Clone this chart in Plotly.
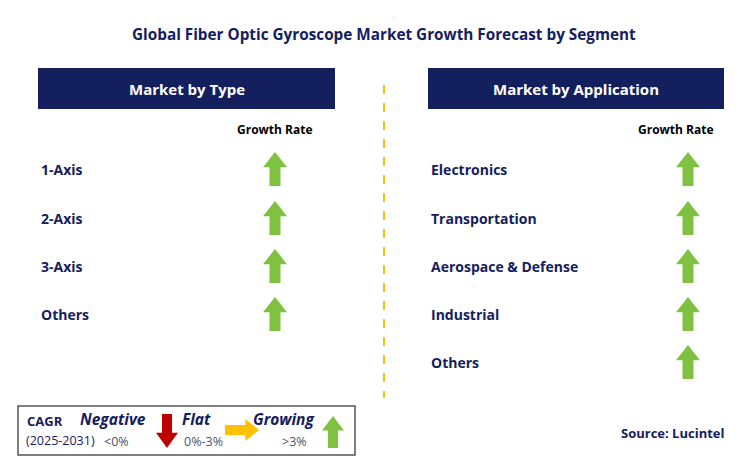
import plotly.graph_objects as go

title = "Global Fiber Optic Gyroscope Market Growth Forecast by Segment"
type_segments = ["1-Axis", "2-Axis", "3-Axis", "Others"]
type_trend = ["up", "up", "up", "up"]
app_segments = ["Electronics", "Transportation", "Aerospace & Defense", "Industrial", "Others"]
app_trend = ["up", "up", "up", "up", "up"]

NAVY = "#14205e"
GREEN = "#7fc241"
RED = "#c00000"
ORANGE = "#ffc000"
FONT = "Open Sans"


def arrow(cx, cy, kind, h=34, w=24, sw=11):
    # path for a block arrow centred at (cx, cy), pixel coordinates (y down)
    if kind == "up":
        t, b, n = cy - h / 2, cy + h / 2, cy - h / 2 + h * 0.45
        pts = [(cx, t), (cx + w / 2, n), (cx + sw / 2, n), (cx + sw / 2, b),
               (cx - sw / 2, b), (cx - sw / 2, n), (cx - w / 2, n)]
        col = GREEN
    elif kind == "down":
        t, b, n = cy - h / 2, cy + h / 2, cy + h / 2 - h * 0.45
        pts = [(cx, b), (cx + w / 2, n), (cx + sw / 2, n), (cx + sw / 2, t),
               (cx - sw / 2, t), (cx - sw / 2, n), (cx - w / 2, n)]
        col = RED
    else:
        l, r, n = cx - h / 2, cx + h / 2, cx + h / 2 - h * 0.4
        pts = [(r, cy), (n, cy - w / 2), (n, cy - sw / 2), (l, cy - sw / 2),
               (l, cy + sw / 2), (n, cy + sw / 2), (n, cy + w / 2)]
        col = ORANGE
    p = "M " + " L ".join(f"{x},{y}" for x, y in pts) + " Z"
    return dict(type="path", path=p, xref="x", yref="y", fillcolor=col, line=dict(width=0))


shapes = []
ann = []

ann.append(dict(x=384, y=34, text=f"<b>{title}</b>", font=dict(size=15.3, color=NAVY)))

# header boxes
for x0, x1, txt in [(38, 335, "Market by Type"), (428, 724, "Market by Application")]:
    shapes.append(dict(type="rect", x0=x0, x1=x1, y0=68, y1=109, xref="x", yref="y",
                       fillcolor=NAVY, line=dict(width=0)))
    ann.append(dict(x=(x0 + x1) / 2, y=89, text=f"<b>{txt}</b>", font=dict(size=15, color="white")))

ann.append(dict(x=275, y=129, text="<b>Growth Rate</b>", font=dict(size=12, color="black")))
ann.append(dict(x=676, y=129, text="<b>Growth Rate</b>", font=dict(size=12, color="black")))

shapes.append(dict(type="line", x0=384, x1=384, y0=85, y1=398, xref="x", yref="y",
                   line=dict(color=ORANGE, width=2, dash="dash")))

rows = [169, 218, 266, 314, 362]
for i, (seg, tr) in enumerate(zip(type_segments, type_trend)):
    ann.append(dict(x=39, y=rows[i], text=f"<b>{seg}</b>", xanchor="left", font=dict(size=14, color=NAVY)))
    shapes.append(arrow(275, rows[i], tr))
for i, (seg, tr) in enumerate(zip(app_segments, app_trend)):
    ann.append(dict(x=429, y=rows[i], text=f"<b>{seg}</b>", xanchor="left", font=dict(size=14, color=NAVY)))
    shapes.append(arrow(688, rows[i], tr))

# legend box
shapes.append(dict(type="rect", x0=18, x1=355, y0=406, y1=455, xref="x", yref="y",
                   fillcolor="white", line=dict(color="#555555", width=1.5)))
ann += [
    dict(x=25, y=421, text="<b>CAGR</b>", xanchor="left", font=dict(size=13, color=NAVY)),
    dict(x=24, y=440, text="(2025-2031)", xanchor="left", font=dict(size=12.5, color=NAVY)),
    dict(x=113, y=419, text="<b><i>Negative</i></b>", font=dict(size=15.5, color=NAVY)),
    dict(x=116, y=441, text="<0%", font=dict(size=12.5, color="#44546a")),
    dict(x=196, y=419, text="<b><i>Flat</i></b>", font=dict(size=15.5, color=NAVY)),
    dict(x=203, y=441, text="0%-3%", font=dict(size=12.5, color="#44546a")),
    dict(x=283, y=419, text="<b><i>Growing</i></b>", font=dict(size=15.5, color=NAVY)),
    dict(x=294, y=441, text=">3%", font=dict(size=12.5, color="#44546a")),
    dict(x=672, y=433, text="<b>Source: Lucintel</b>", font=dict(size=13, color=NAVY)),
]
shapes.append(arrow(167, 431, "down", h=34, w=22, sw=10))
shapes.append(arrow(242, 430, "right", h=34, w=22, sw=10))
shapes.append(arrow(333, 432, "up", h=32, w=22, sw=10))

for a in ann:
    a.update(xref="x", yref="y", showarrow=False)
    a["font"]["family"] = FONT

# page body has an 8px margin, so shift the coordinate window to compensate
fig = go.Figure()
fig.update_layout(
    width=746, height=471, margin=dict(l=0, r=0, t=0, b=0),
    paper_bgcolor="white", plot_bgcolor="white", showlegend=False,
    xaxis=dict(range=[8, 754], visible=False, fixedrange=True),
    yaxis=dict(range=[479, 8], visible=False, fixedrange=True),
    shapes=shapes, annotations=ann,
)
fig.write_html("out.html", config={"displayModeBar": False})
